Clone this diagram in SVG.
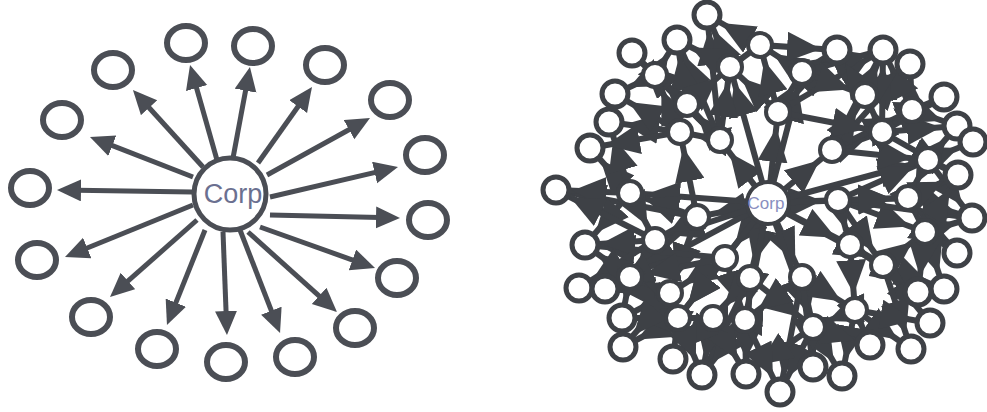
<svg xmlns="http://www.w3.org/2000/svg" width="987" height="412" viewBox="0 0 987 412">
<defs>
<marker id="ah" markerUnits="userSpaceOnUse" markerWidth="26" markerHeight="24" refX="4" refY="11" orient="auto"><path d="M0,0 L24,11 L0,22 z" fill="#4b4e55"/></marker>
<marker id="ah2" markerUnits="userSpaceOnUse" markerWidth="52" markerHeight="30" refX="50" refY="15" orient="auto"><path d="M0,0 L34,15 L0,30 z" fill="#3e4146"/></marker>
<style>
.ln{stroke:#4b4e55;stroke-width:5;fill:none;marker-end:url(#ah)}
.rl{stroke:#3e4146;stroke-width:6;fill:none;marker-end:url(#ah2)}
.lc{fill:#fff;stroke:#4b4e55;stroke-width:6}
.rc{fill:#fff;stroke:#3e4146;stroke-width:5}
.ri{fill:#fff;stroke:#3e4146;stroke-width:4}
.lt{font-family:"Liberation Sans",Arial,sans-serif;font-size:27px;fill:#6b7090;text-anchor:middle}
.rt{font-family:"Liberation Sans",Arial,sans-serif;font-size:17px;fill:#8a8fc0;text-anchor:middle}
</style>
</defs>
<rect width="987" height="412" fill="#fff"/>
<g id="left-connectors">
<line class="ln" x1="217" y1="160" x2="195.5" y2="84.2"/>
<line class="ln" x1="233" y1="158" x2="246.3" y2="86.7"/>
<line class="ln" x1="258" y1="163" x2="300.4" y2="103.3"/>
<line class="ln" x1="267" y1="175" x2="352.5" y2="127.7"/>
<line class="ln" x1="270" y1="197" x2="378.5" y2="171.6"/>
<line class="ln" x1="270" y1="215" x2="380" y2="217.5"/>
<line class="ln" x1="260" y1="227" x2="356.2" y2="261.3"/>
<line class="ln" x1="248" y1="232" x2="322.1" y2="298.6"/>
<line class="ln" x1="240" y1="230" x2="272.8" y2="314.4"/>
<line class="ln" x1="223" y1="232" x2="226.2" y2="315"/>
<line class="ln" x1="205" y1="230" x2="174.4" y2="306.4"/>
<line class="ln" x1="197" y1="220" x2="125" y2="283.7"/>
<line class="ln" x1="193" y1="205" x2="83.5" y2="249.5"/>
<line class="ln" x1="192" y1="192" x2="77" y2="190.3"/>
<line class="ln" x1="193" y1="177" x2="108.6" y2="144.2"/>
<line class="ln" x1="203" y1="167" x2="146.4" y2="104.8"/>
</g>
<g id="left-corp"><circle cx="230" cy="194" r="36" fill="#fff" stroke="#4b4e55" stroke-width="5"/><text class="lt" x="233" y="203">Corp</text></g>
<g id="l1"><ellipse class="lc" cx="186" cy="43" rx="19" ry="17"/></g>
<g id="l2"><ellipse class="lc" cx="253" cy="46" rx="19" ry="17"/></g>
<g id="l3"><ellipse class="lc" cx="325" cy="65" rx="19" ry="17"/></g>
<g id="l4"><ellipse class="lc" cx="390" cy="100" rx="19" ry="17"/></g>
<g id="l5"><ellipse class="lc" cx="425" cy="155" rx="19" ry="17"/></g>
<g id="l6"><ellipse class="lc" cx="428" cy="220" rx="19" ry="17"/></g>
<g id="l7"><ellipse class="lc" cx="397" cy="278" rx="19" ry="17"/></g>
<g id="l8"><ellipse class="lc" cx="355" cy="328" rx="19" ry="17"/></g>
<g id="l9"><ellipse class="lc" cx="295" cy="357" rx="19" ry="17"/></g>
<g id="l10"><ellipse class="lc" cx="226" cy="362" rx="19" ry="17"/></g>
<g id="l11"><ellipse class="lc" cx="157" cy="349" rx="19" ry="17"/></g>
<g id="l12"><ellipse class="lc" cx="91" cy="317" rx="19" ry="17"/></g>
<g id="l13"><ellipse class="lc" cx="37" cy="260" rx="19" ry="17"/></g>
<g id="l14"><ellipse class="lc" cx="30" cy="188" rx="19" ry="17"/></g>
<g id="l15"><ellipse class="lc" cx="62" cy="120" rx="19" ry="17"/></g>
<g id="l16"><ellipse class="lc" cx="113" cy="70" rx="19" ry="17"/></g>

<g id="right-connectors">
<line class="rl" x1="768" y1="203" x2="697" y2="217"/>
<line class="rl" x1="768" y1="203" x2="725" y2="258"/>
<line class="rl" x1="768" y1="203" x2="750" y2="278"/>
<line class="rl" x1="768" y1="203" x2="802" y2="277"/>
<line class="rl" x1="768" y1="203" x2="838" y2="200"/>
<line class="rl" x1="768" y1="203" x2="832" y2="150"/>
<line class="rl" x1="768" y1="203" x2="778" y2="112"/>
<line class="rl" x1="768" y1="203" x2="720" y2="140"/>
<line class="rl" x1="768" y1="203" x2="630" y2="193"/>
<line class="rl" x1="768" y1="203" x2="730" y2="67"/>
<line class="rl" x1="768" y1="203" x2="802" y2="72"/>
<line class="rl" x1="768" y1="203" x2="928" y2="160"/>
<line class="rl" x1="768" y1="203" x2="883" y2="265"/>
<line class="rl" x1="768" y1="203" x2="813" y2="327"/>
<line class="rl" x1="768" y1="203" x2="678" y2="318"/>
<line class="rl" x1="768" y1="203" x2="630" y2="277"/>
<line class="rl" x1="768" y1="203" x2="655" y2="240"/>
<line class="rl" x1="768" y1="203" x2="908" y2="198"/>
<line class="rl" x1="768" y1="203" x2="745" y2="320"/>
<line class="rl" x1="768" y1="203" x2="850" y2="245"/>
<line class="rl" x1="697" y1="217" x2="630" y2="193"/>
<line class="rl" x1="697" y1="217" x2="680" y2="132"/>
<line class="rl" x1="697" y1="217" x2="556" y2="190"/>
<line class="rl" x1="697" y1="217" x2="630" y2="277"/>
<line class="rl" x1="697" y1="217" x2="670" y2="293"/>
<line class="rl" x1="697" y1="217" x2="655" y2="240"/>
<line class="rl" x1="725" y1="258" x2="670" y2="293"/>
<line class="rl" x1="725" y1="258" x2="678" y2="318"/>
<line class="rl" x1="725" y1="258" x2="585" y2="245"/>
<line class="rl" x1="725" y1="258" x2="745" y2="320"/>
<line class="rl" x1="725" y1="258" x2="630" y2="277"/>
<line class="rl" x1="750" y1="278" x2="713" y2="318"/>
<line class="rl" x1="750" y1="278" x2="746" y2="374"/>
<line class="rl" x1="750" y1="278" x2="702" y2="375"/>
<line class="rl" x1="750" y1="278" x2="813" y2="327"/>
<line class="rl" x1="750" y1="278" x2="673" y2="359"/>
<line class="rl" x1="802" y1="277" x2="813" y2="327"/>
<line class="rl" x1="802" y1="277" x2="780" y2="392"/>
<line class="rl" x1="802" y1="277" x2="855" y2="310"/>
<line class="rl" x1="802" y1="277" x2="745" y2="320"/>
<line class="rl" x1="802" y1="277" x2="813" y2="367"/>
<line class="rl" x1="838" y1="200" x2="925" y2="232"/>
<line class="rl" x1="838" y1="200" x2="928" y2="160"/>
<line class="rl" x1="838" y1="200" x2="883" y2="265"/>
<line class="rl" x1="838" y1="200" x2="972" y2="218"/>
<line class="rl" x1="838" y1="200" x2="908" y2="198"/>
<line class="rl" x1="838" y1="200" x2="850" y2="245"/>
<line class="rl" x1="832" y1="150" x2="882" y2="132"/>
<line class="rl" x1="832" y1="150" x2="912" y2="110"/>
<line class="rl" x1="832" y1="150" x2="910" y2="64"/>
<line class="rl" x1="832" y1="150" x2="865" y2="95"/>
<line class="rl" x1="832" y1="150" x2="928" y2="160"/>
<line class="rl" x1="832" y1="150" x2="883" y2="50"/>
<line class="rl" x1="778" y1="112" x2="802" y2="72"/>
<line class="rl" x1="778" y1="112" x2="837" y2="50"/>
<line class="rl" x1="778" y1="112" x2="883" y2="50"/>
<line class="rl" x1="778" y1="112" x2="730" y2="67"/>
<line class="rl" x1="778" y1="112" x2="760" y2="45"/>
<line class="rl" x1="778" y1="112" x2="882" y2="132"/>
<line class="rl" x1="720" y1="140" x2="687" y2="104"/>
<line class="rl" x1="720" y1="140" x2="730" y2="67"/>
<line class="rl" x1="720" y1="140" x2="707" y2="15"/>
<line class="rl" x1="720" y1="140" x2="677" y2="40"/>
<line class="rl" x1="720" y1="140" x2="680" y2="132"/>
<line class="rl" x1="720" y1="140" x2="655" y2="75"/>
<line class="rl" x1="720" y1="140" x2="632" y2="53"/>
<line class="rl" x1="630" y1="193" x2="556" y2="190"/>
<line class="rl" x1="630" y1="193" x2="590" y2="148"/>
<line class="rl" x1="630" y1="193" x2="585" y2="245"/>
<line class="rl" x1="630" y1="193" x2="609" y2="122"/>
<line class="rl" x1="630" y1="193" x2="655" y2="240"/>
<line class="rl" x1="680" y1="132" x2="609" y2="122"/>
<line class="rl" x1="680" y1="132" x2="615" y2="94"/>
<line class="rl" x1="680" y1="132" x2="655" y2="75"/>
<line class="rl" x1="680" y1="132" x2="590" y2="148"/>
<line class="rl" x1="687" y1="104" x2="632" y2="53"/>
<line class="rl" x1="687" y1="104" x2="677" y2="40"/>
<line class="rl" x1="687" y1="104" x2="655" y2="75"/>
<line class="rl" x1="687" y1="104" x2="730" y2="67"/>
<line class="rl" x1="730" y1="67" x2="707" y2="15"/>
<line class="rl" x1="730" y1="67" x2="760" y2="45"/>
<line class="rl" x1="730" y1="67" x2="677" y2="40"/>
<line class="rl" x1="802" y1="72" x2="837" y2="50"/>
<line class="rl" x1="802" y1="72" x2="760" y2="45"/>
<line class="rl" x1="802" y1="72" x2="883" y2="50"/>
<line class="rl" x1="802" y1="72" x2="865" y2="95"/>
<line class="rl" x1="882" y1="132" x2="944" y2="97"/>
<line class="rl" x1="882" y1="132" x2="957" y2="126"/>
<line class="rl" x1="882" y1="132" x2="883" y2="50"/>
<line class="rl" x1="882" y1="132" x2="865" y2="95"/>
<line class="rl" x1="882" y1="132" x2="912" y2="110"/>
<line class="rl" x1="882" y1="132" x2="958" y2="175"/>
<line class="rl" x1="912" y1="110" x2="910" y2="64"/>
<line class="rl" x1="912" y1="110" x2="944" y2="97"/>
<line class="rl" x1="912" y1="110" x2="957" y2="126"/>
<line class="rl" x1="912" y1="110" x2="883" y2="50"/>
<line class="rl" x1="928" y1="160" x2="973" y2="142"/>
<line class="rl" x1="928" y1="160" x2="958" y2="175"/>
<line class="rl" x1="928" y1="160" x2="957" y2="126"/>
<line class="rl" x1="928" y1="160" x2="908" y2="198"/>
<line class="rl" x1="928" y1="160" x2="972" y2="218"/>
<line class="rl" x1="908" y1="198" x2="972" y2="218"/>
<line class="rl" x1="908" y1="198" x2="957" y2="253"/>
<line class="rl" x1="908" y1="198" x2="958" y2="175"/>
<line class="rl" x1="908" y1="198" x2="925" y2="232"/>
<line class="rl" x1="925" y1="232" x2="972" y2="218"/>
<line class="rl" x1="925" y1="232" x2="957" y2="253"/>
<line class="rl" x1="925" y1="232" x2="944" y2="289"/>
<line class="rl" x1="925" y1="232" x2="918" y2="292"/>
<line class="rl" x1="925" y1="232" x2="958" y2="175"/>
<line class="rl" x1="883" y1="265" x2="918" y2="292"/>
<line class="rl" x1="883" y1="265" x2="930" y2="323"/>
<line class="rl" x1="883" y1="265" x2="944" y2="289"/>
<line class="rl" x1="883" y1="265" x2="911" y2="349"/>
<line class="rl" x1="883" y1="265" x2="925" y2="232"/>
<line class="rl" x1="850" y1="245" x2="883" y2="265"/>
<line class="rl" x1="850" y1="245" x2="918" y2="292"/>
<line class="rl" x1="850" y1="245" x2="855" y2="310"/>
<line class="rl" x1="855" y1="310" x2="911" y2="349"/>
<line class="rl" x1="855" y1="310" x2="870" y2="345"/>
<line class="rl" x1="855" y1="310" x2="930" y2="323"/>
<line class="rl" x1="855" y1="310" x2="842" y2="376"/>
<line class="rl" x1="855" y1="310" x2="813" y2="327"/>
<line class="rl" x1="813" y1="327" x2="842" y2="376"/>
<line class="rl" x1="813" y1="327" x2="813" y2="367"/>
<line class="rl" x1="813" y1="327" x2="780" y2="392"/>
<line class="rl" x1="813" y1="327" x2="746" y2="374"/>
<line class="rl" x1="813" y1="327" x2="870" y2="345"/>
<line class="rl" x1="745" y1="320" x2="746" y2="374"/>
<line class="rl" x1="745" y1="320" x2="780" y2="392"/>
<line class="rl" x1="745" y1="320" x2="713" y2="318"/>
<line class="rl" x1="745" y1="320" x2="702" y2="375"/>
<line class="rl" x1="713" y1="318" x2="702" y2="375"/>
<line class="rl" x1="713" y1="318" x2="746" y2="374"/>
<line class="rl" x1="713" y1="318" x2="673" y2="359"/>
<line class="rl" x1="713" y1="318" x2="678" y2="318"/>
<line class="rl" x1="678" y1="318" x2="673" y2="359"/>
<line class="rl" x1="678" y1="318" x2="623" y2="347"/>
<line class="rl" x1="678" y1="318" x2="622" y2="318"/>
<line class="rl" x1="678" y1="318" x2="702" y2="375"/>
<line class="rl" x1="670" y1="293" x2="622" y2="318"/>
<line class="rl" x1="670" y1="293" x2="605" y2="289"/>
<line class="rl" x1="670" y1="293" x2="623" y2="347"/>
<line class="rl" x1="670" y1="293" x2="630" y2="277"/>
<line class="rl" x1="655" y1="240" x2="585" y2="245"/>
<line class="rl" x1="655" y1="240" x2="556" y2="190"/>
<line class="rl" x1="655" y1="240" x2="579" y2="288"/>
<line class="rl" x1="655" y1="240" x2="630" y2="277"/>
<line class="rl" x1="630" y1="277" x2="579" y2="288"/>
<line class="rl" x1="630" y1="277" x2="605" y2="289"/>
<line class="rl" x1="630" y1="277" x2="585" y2="245"/>
<line class="rl" x1="630" y1="277" x2="622" y2="318"/>
<line class="rl" x1="655" y1="75" x2="632" y2="53"/>
<line class="rl" x1="655" y1="75" x2="677" y2="40"/>
<line class="rl" x1="655" y1="75" x2="615" y2="94"/>
<line class="rl" x1="760" y1="45" x2="707" y2="15"/>
<line class="rl" x1="760" y1="45" x2="837" y2="50"/>
<line class="rl" x1="865" y1="95" x2="837" y2="50"/>
<line class="rl" x1="865" y1="95" x2="910" y2="64"/>
<line class="rl" x1="865" y1="95" x2="883" y2="50"/>
</g>

<g id="a1"><circle class="ri" cx="697" cy="217" r="12"/></g>
<g id="a2"><circle class="ri" cx="725" cy="258" r="12"/></g>
<g id="a3"><circle class="ri" cx="750" cy="278" r="12"/></g>
<g id="a4"><circle class="ri" cx="802" cy="277" r="12"/></g>
<g id="a5"><circle class="ri" cx="838" cy="200" r="12"/></g>
<g id="a6"><circle class="ri" cx="832" cy="150" r="12"/></g>
<g id="a7"><circle class="ri" cx="778" cy="112" r="12"/></g>
<g id="a8"><circle class="ri" cx="720" cy="140" r="12"/></g>
<g id="b1"><circle class="ri" cx="630" cy="193" r="12"/></g>
<g id="b2"><circle class="ri" cx="680" cy="132" r="12"/></g>
<g id="b3"><circle class="ri" cx="687" cy="104" r="12"/></g>
<g id="b4"><circle class="ri" cx="730" cy="67" r="12"/></g>
<g id="b5"><circle class="ri" cx="802" cy="72" r="12"/></g>
<g id="b6"><circle class="ri" cx="882" cy="132" r="12"/></g>
<g id="b7"><circle class="ri" cx="912" cy="110" r="12"/></g>
<g id="b8"><circle class="ri" cx="928" cy="160" r="12"/></g>
<g id="b9"><circle class="ri" cx="925" cy="232" r="12"/></g>
<g id="b10"><circle class="ri" cx="883" cy="265" r="12"/></g>
<g id="b12"><circle class="ri" cx="855" cy="310" r="12"/></g>
<g id="b13"><circle class="ri" cx="813" cy="327" r="12"/></g>
<g id="b14"><circle class="ri" cx="713" cy="318" r="12"/></g>
<g id="b15"><circle class="ri" cx="678" cy="318" r="12"/></g>
<g id="b16"><circle class="ri" cx="670" cy="293" r="12"/></g>
<g id="b17"><circle class="ri" cx="630" cy="277" r="12"/></g>
<g id="c1"><circle class="ri" cx="655" cy="75" r="12"/></g>
<g id="c2"><circle class="ri" cx="760" cy="45" r="12"/></g>
<g id="c3"><circle class="ri" cx="908" cy="198" r="12"/></g>
<g id="c5"><circle class="ri" cx="850" cy="245" r="12"/></g>
<g id="c6"><circle class="ri" cx="745" cy="320" r="12"/></g>
<g id="c7"><circle class="ri" cx="655" cy="240" r="12"/></g>
<g id="c8"><circle class="ri" cx="865" cy="95" r="12"/></g>
<g id="o1"><circle class="rc" cx="707" cy="15" r="13"/></g>
<g id="o2"><circle class="rc" cx="677" cy="40" r="13"/></g>
<g id="o3"><circle class="rc" cx="632" cy="53" r="13"/></g>
<g id="o4"><circle class="rc" cx="837" cy="50" r="13"/></g>
<g id="o5"><circle class="rc" cx="883" cy="50" r="13"/></g>
<g id="o6"><circle class="rc" cx="910" cy="64" r="13"/></g>
<g id="o7"><circle class="rc" cx="615" cy="94" r="13"/></g>
<g id="o8"><circle class="rc" cx="944" cy="97" r="13"/></g>
<g id="o9"><circle class="rc" cx="609" cy="122" r="13"/></g>
<g id="o10"><circle class="rc" cx="957" cy="126" r="13"/></g>
<g id="o11"><circle class="rc" cx="590" cy="148" r="13"/></g>
<g id="o12"><circle class="rc" cx="973" cy="142" r="13"/></g>
<g id="o13"><circle class="rc" cx="958" cy="175" r="13"/></g>
<g id="o14"><circle class="rc" cx="556" cy="190" r="13"/></g>
<g id="o15"><circle class="rc" cx="972" cy="218" r="13"/></g>
<g id="o16"><circle class="rc" cx="585" cy="245" r="13"/></g>
<g id="o17"><circle class="rc" cx="957" cy="253" r="13"/></g>
<g id="o18"><circle class="rc" cx="579" cy="288" r="13"/></g>
<g id="o19"><circle class="rc" cx="605" cy="289" r="13"/></g>
<g id="o20"><circle class="rc" cx="944" cy="289" r="13"/></g>
<g id="o21"><circle class="rc" cx="918" cy="292" r="13"/></g>
<g id="o22"><circle class="rc" cx="622" cy="318" r="13"/></g>
<g id="o23"><circle class="rc" cx="930" cy="323" r="13"/></g>
<g id="o24"><circle class="rc" cx="623" cy="347" r="13"/></g>
<g id="o25"><circle class="rc" cx="911" cy="349" r="13"/></g>
<g id="o26"><circle class="rc" cx="673" cy="359" r="13"/></g>
<g id="o27"><circle class="rc" cx="702" cy="375" r="13"/></g>
<g id="o28"><circle class="rc" cx="746" cy="374" r="13"/></g>
<g id="o29"><circle class="rc" cx="780" cy="392" r="13"/></g>
<g id="o30"><circle class="rc" cx="842" cy="376" r="13"/></g>
<g id="o31"><circle class="rc" cx="870" cy="345" r="13"/></g>
<g id="o32"><circle class="rc" cx="813" cy="367" r="13"/></g>
<g id="right-corp"><circle cx="768" cy="203" r="21" fill="#fff" stroke="#3e4146" stroke-width="4"/><text class="rt" x="766" y="209">Corp</text></g>
</svg>
